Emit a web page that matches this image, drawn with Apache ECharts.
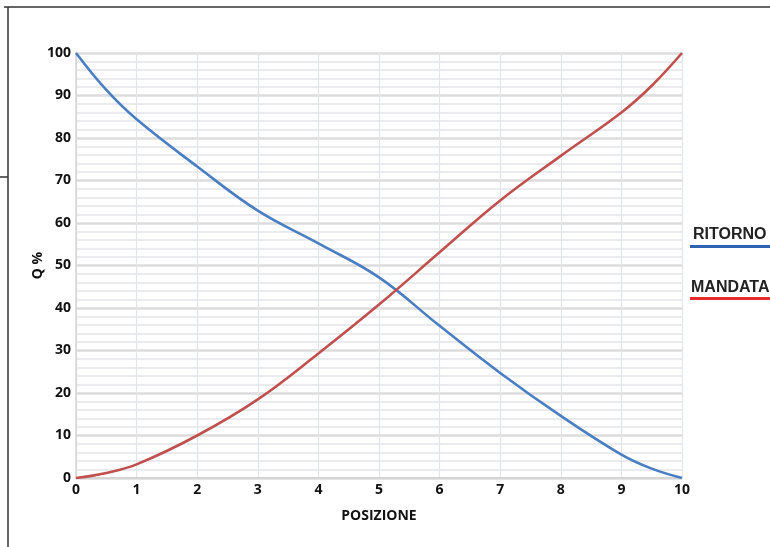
<!DOCTYPE html>
<html>
<head>
<meta charset="utf-8">
<script src="https://cdn.jsdelivr.net/npm/echarts@6/dist/echarts.min.js"></script>
<style>html,body{margin:0;padding:0;background:#fff}#c{width:770px;height:547px}</style>
</head>
<body>
<div id="c"></div>
<script>
var posizione = [0, 0.5, 1, 2, 3, 4, 5, 6, 7, 8, 9, 9.5, 10];
var ritorno   = [100, 91.3, 84.4, 73.3, 62.9, 55.2, 47.2, 35.8, 24.7, 14.6, 5.5, 2.2, 0];
var mandata   = [0, 1.2, 3.2, 10, 18.5, 29.3, 40.8, 53.1, 65.3, 75.8, 86, 92.3, 100];
var xTicks = [0,1,2,3,4,5,6,7,8,9,10];
var yTicks = [0,10,20,30,40,50,60,70,80,90,100];
var seriesNames = ['RITORNO', 'MANDATA'];

function pairs(xs, ys){ return xs.map(function(x,i){ return [x, ys[i]]; }); }

var chart = echarts.init(document.getElementById('c'));
var labelFont = {color:'#111', fontWeight:'bolder', fontSize:14, fontFamily:'Open Sans'};
chart.setOption({
  animation:false,
  grid:{left:76, right:88, top:53, bottom:69, containLabel:false},
  xAxis:{
    type:'value', min:xTicks[0], max:xTicks[xTicks.length-1], interval:1,
    name:'POSIZIONE', nameLocation:'middle', nameGap:31,
    nameTextStyle:{color:'#111', fontWeight:'bolder', fontSize:14, fontFamily:'Open Sans'},
    axisLine:{show:true, lineStyle:{color:'#cfcfcf', width:1.5}},
    axisTick:{show:false},
    axisLabel:Object.assign({margin:5}, labelFont),
    splitLine:{show:true, lineStyle:{color:'#e3e4e7', width:1.2}}
  },
  yAxis:{
    type:'value', min:yTicks[0], max:yTicks[yTicks.length-1], interval:10,
    name:'Q %', nameLocation:'middle', nameGap:38, nameRotate:90, nameMoveOverlap:false,
    nameTextStyle:{color:'#111', fontWeight:'bolder', fontSize:14, fontFamily:'Open Sans', verticalAlign:'middle'},
    axisLine:{show:true, lineStyle:{color:'#d5d5d5', width:1.5}},
    axisTick:{show:false},
    axisLabel:Object.assign({margin:5}, labelFont),
    splitLine:{show:true, lineStyle:{color:'#dcdcdc', width:2.5}},
    minorTick:{show:false, splitNumber:5},
    minorSplitLine:{show:true, lineStyle:{color:'#e9ebee', width:2}}
  },
  series:[
    {name:seriesNames[0], type:'line', smooth:0.4, symbol:'none', data:pairs(posizione, ritorno),
     lineStyle:{color:'#4a7ec2', width:2.6}, z:3},
    {name:seriesNames[1], type:'line', smooth:0.4, symbol:'none', data:pairs(posizione, mandata),
     lineStyle:{color:'#c0504d', width:2.6}, z:3}
  ],
  graphic:[
    {type:'line', shape:{x1:4, y1:7, x2:770, y2:7}, style:{stroke:'#333', lineWidth:1.5}},
    {type:'line', shape:{x1:8, y1:7, x2:8, y2:547}, style:{stroke:'#333', lineWidth:1.5}},
    {type:'line', shape:{x1:0, y1:177, x2:8, y2:177}, style:{stroke:'#333', lineWidth:1.5}},
    {type:'text', left:693, top:227, style:{text:seriesNames[0], fill:'#222', font:'bold 16px "Liberation Sans", Arial'}},
    {type:'rect', shape:{x:690, y:245, width:80, height:3}, style:{fill:'#2f62b0'}},
    {type:'text', left:691, top:280, style:{text:seriesNames[1], fill:'#222', font:'bold 16px "Liberation Sans", Arial'}},
    {type:'rect', shape:{x:690, y:297, width:80, height:3}, style:{fill:'#e52a2d'}}
  ]
});
</script>
</body>
</html>
